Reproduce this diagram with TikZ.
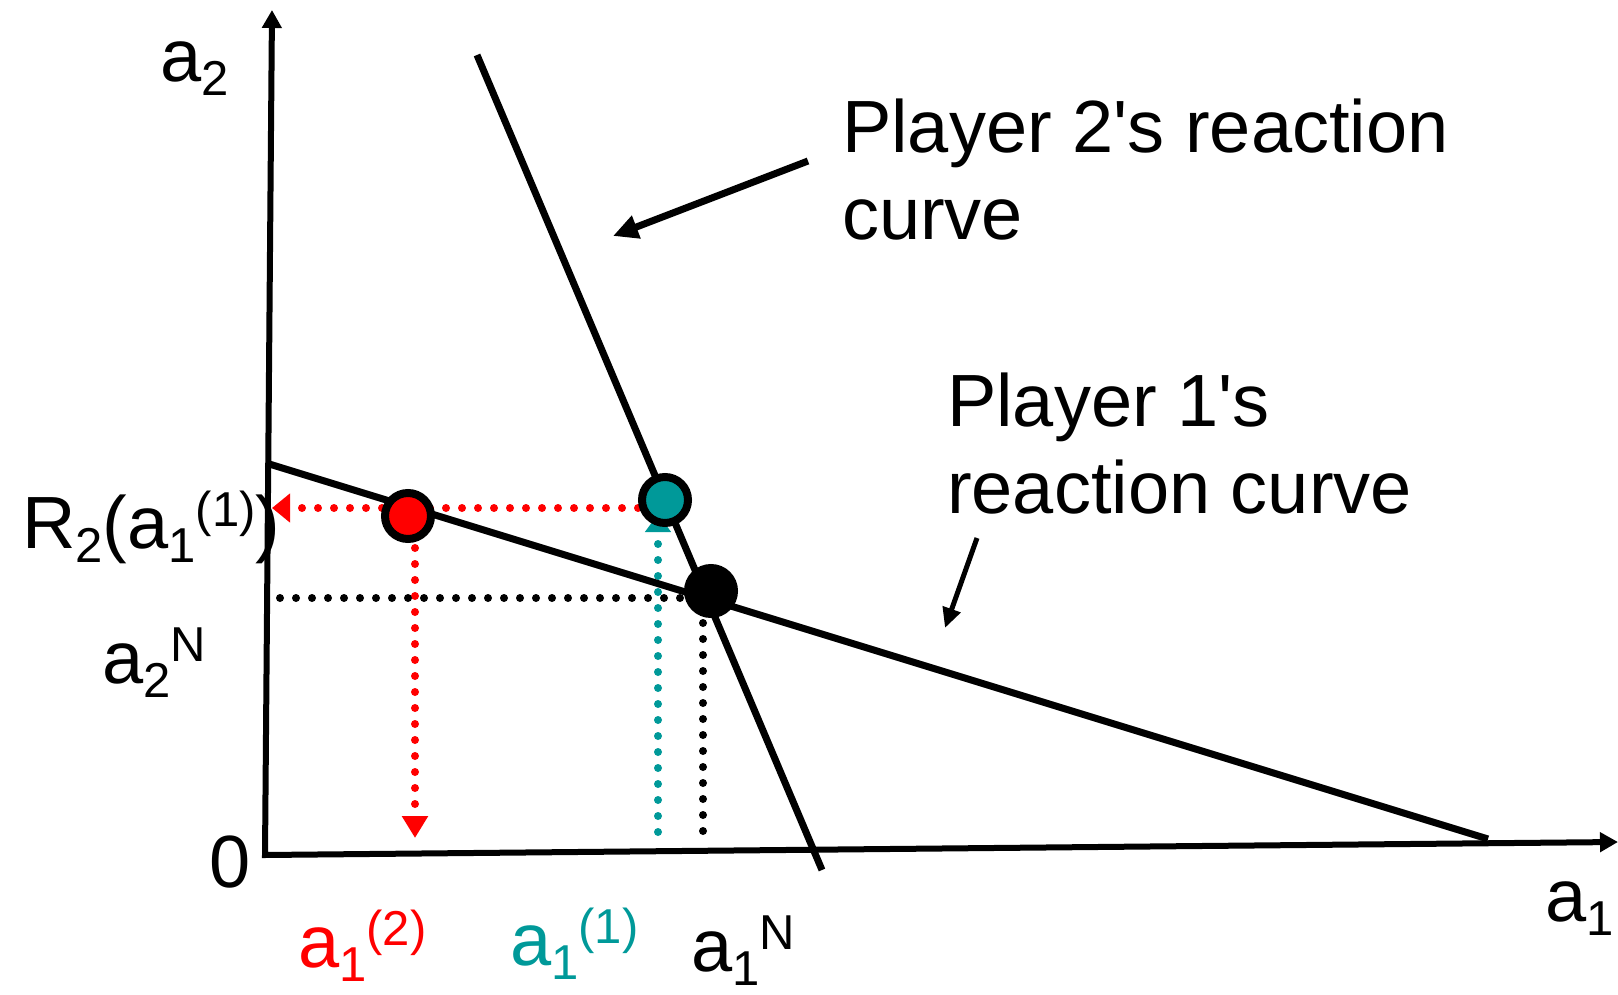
\documentclass[tikz,border=0pt]{standalone}
\usepackage{fontspec}
\setmainfont{Liberation Sans}
\usetikzlibrary{calc, arrows.meta, backgrounds}
\definecolor{tealpt}{RGB}{0,153,153}
\newcommand{\subtx}[1]{\raisebox{-14pt}{\fontsize{49}{49}\selectfont #1}}
\newcommand{\suptx}[1]{\raisebox{22pt}{\fontsize{49}{49}\selectfont #1}}

\begin{document}
\begin{tikzpicture}[x=1pt, y=-1pt, font=\fontsize{74}{87}\selectfont,
        axis/.style={line width=6pt, {Triangle[length=18pt, width=19pt]}-{Triangle[length=18pt, width=19pt]}},
        curve/.style={line width=7pt},
        dots/.style={line width=8pt, line cap=round, dash pattern=on 0pt off 16pt},
        pt/.style={circle, draw=black, line width=8pt, minimum size=46pt, inner sep=0pt},
        lbl/.style={anchor=base west, inner sep=0pt},
        note/.style={line width=7pt, -{Triangle[length=25pt, width=23pt]}}]
                \useasboundingbox (0,0) rectangle (1618,995);
                \coordinate (O) at (265,855);
                \coordinate (Y) at (272,10);
                \coordinate (X) at (1618,842);
                \coordinate (P2a) at (477,55);
                \coordinate (P2b) at (822,870);
                \coordinate (P1a) at (266,463);
                \coordinate (P1b) at (1488,839);
                \draw[axis] (Y) -- (O) -- (X);
                \draw[curve] (P2a) -- (P2b);
                \draw[curve] (P1a) -- (P1b);
                \node[pt, fill=tealpt] (teal) at (665,500) {};
                \node[pt, fill=red] (redp) at (408,516) {};
                \node[pt, fill=black] (nash) at (711,591) {};
                \coordinate (R2) at (272,508);
                \coordinate (A12) at (415,838);
                \coordinate (A11) at (658,832);
                \coordinate (T11) at (658,514);
                \coordinate (A1N) at (703,843);
                \coordinate (A2N) at (280,598);
                \begin{scope}[on background layer]
                \draw[dots, red, -{Triangle[length=18pt, width=28pt]}] (teal.west |- R2) -- (R2);
                \draw[dots, red, -{Triangle[length=22pt, width=25pt]}] (A12 |- redp) -- (A12);
                \draw[dots, tealpt, -{Triangle[length=18pt, width=25pt]}] (A11) -- (T11);
                \draw[dots] (A1N |- nash) -- (A1N);
                \draw[dots] (A2N) -- (A2N -| nash);
                \end{scope}
                \node[lbl] (ya) at (160,82) {a\subtx{2}};
                \node[lbl] (zero) at (209,887) {0};
                \node[lbl] (xa) at (1545,921) {a\subtx{1}};
                \node[lbl] (r2lab) at (22,548) {R\subtx{2}(a\subtx{1}\suptx{(1)})};
                \node[lbl] (a2n) at (102,683) {a\subtx{2}\suptx{N}};
                \node[lbl, red] (a12) at (298,967) {a\subtx{1}\suptx{(2)}};
                \node[lbl, tealpt] (a11) at (510,965) {a\subtx{1}\suptx{(1)}};
                \node[lbl] (a1n) at (691,971) {a\subtx{1}\suptx{N}};
                \node[lbl, align=left] (p2lab) at (842,240) {Player 2\textquotesingle s reaction\\curve};
                \node[lbl, align=left] (p1lab) at (947,513) {Player 1\textquotesingle s\\reaction curve};
                \coordinate (p2tip) at (613,236);
                \coordinate (p1tail) at (977,538);
                \coordinate (p1tip) at (945,628);
                \draw[note] (p2lab.base west) ++(-34,-79) -- (p2tip);
                \draw[note, line width=5pt, -{Triangle[length=20pt, width=18pt]}] (p1tail) -- (p1tip);
            \end{tikzpicture}
\end{document}
